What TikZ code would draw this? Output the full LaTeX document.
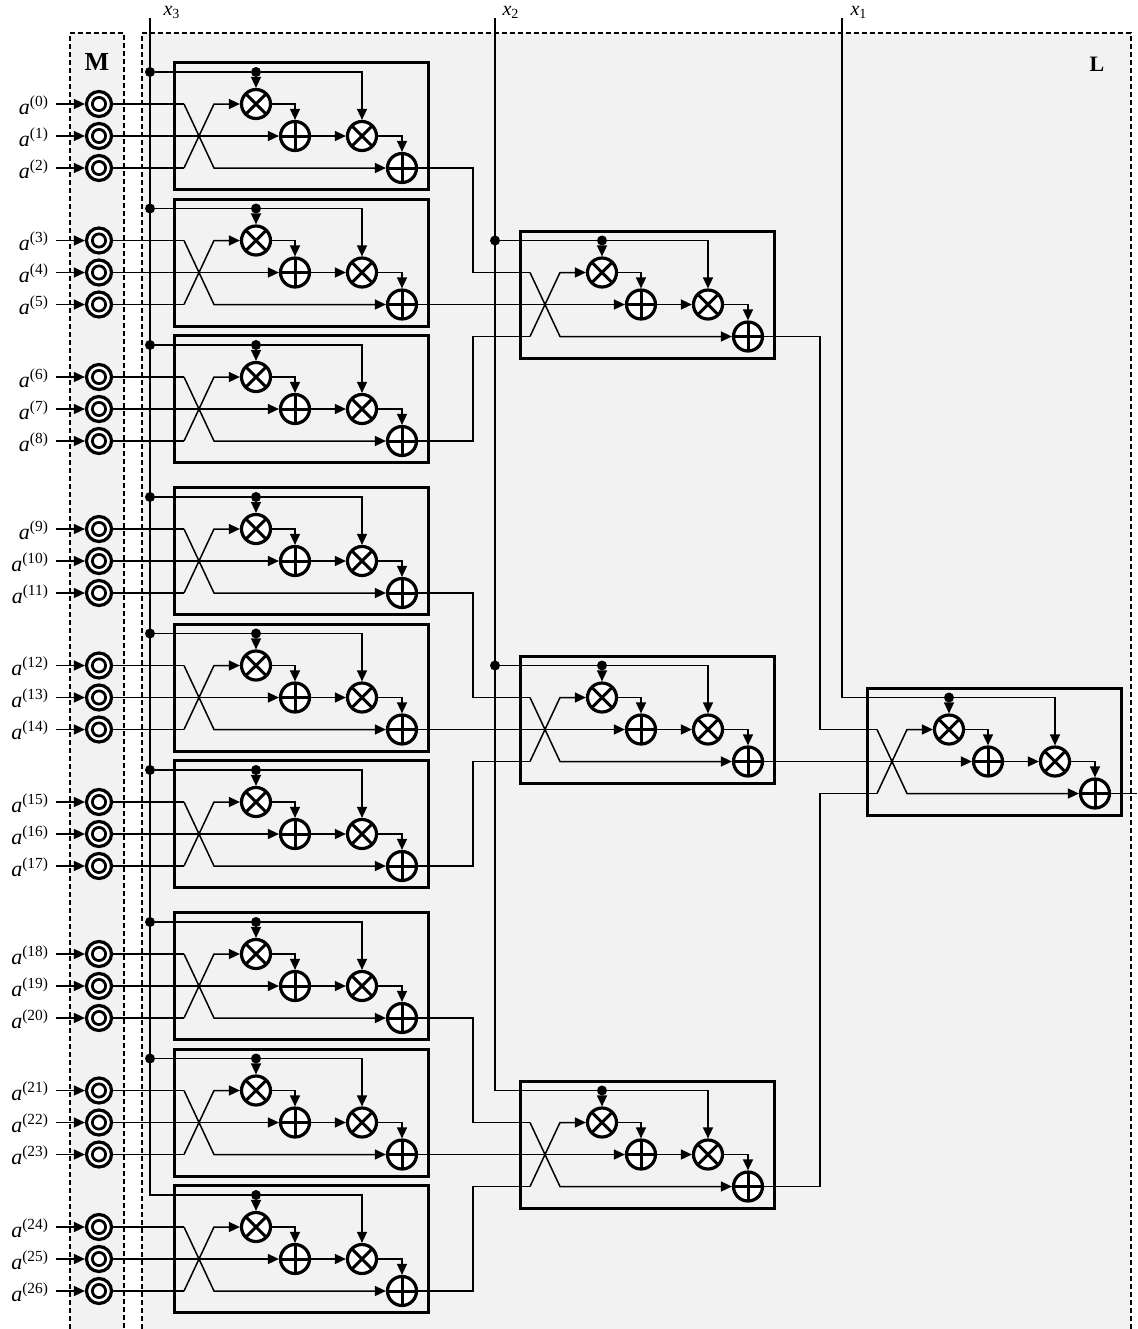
\documentclass[tikz,border=0pt]{standalone}
\usepackage{fontspec}
\setmainfont{Liberation Serif}
\usetikzlibrary{arrows.meta,calc}

\definecolor{panelgray}{HTML}{F2F2F2}

% one Horner unit: name, left edge, first row
\newcommand{\hornerunit}[3]{%
  \node[blockbox, anchor=north west] (#1) at (#2,#3-43) {};
  \node[mulnode] (#1m1) at (#2+83,#3) {};
  \node[addnode] (#1a1) at (#2+122,#3+32) {};
  \node[mulnode] (#1m2) at (#2+189,#3+32) {};
  \node[addnode] (#1a2) at (#2+229,#3+64) {};
  \node[jdot] (#1d) at (#2+83,#3-32) {};
  \coordinate (#1i0) at (#2+11,#3);
  \coordinate (#1i2) at (#2+11,#3+64);
  \coordinate (#1k0) at (#2+41,#3);
  \coordinate (#1k2) at (#2+41,#3+64);
  \coordinate (#1e0) at (#2-46,#3);
  \coordinate (#1e2) at (#2-46,#3+64);
  \draw[arr] (#1i0) -- (#1k2) -- (#1a2);
  \draw[arr] (#1i2) -- (#1k0) -- (#1m1);
  \draw[arr] (#1d) -- (#1m1);
  \draw[arr] (#1d) -| (#1m2);
  \draw[arr] (#1m1) -| (#1a1);
  \draw[arr] (#1a1) -- (#1m2);
  \draw[arr] (#1m2) -| (#1a2);
}

\begin{document}
\begin{tikzpicture}[
  x=0.5pt, y=-0.5pt,
  font=\fontsize{11}{13}\selectfont,
  opnode/.style={circle, draw, line width=1.6pt, fill=white, minimum size=14.5pt, inner sep=0pt},
  mulnode/.style={opnode, path picture={\draw[line width=1.5pt]
      (path picture bounding box.north west) -- (path picture bounding box.south east)
      (path picture bounding box.north east) -- (path picture bounding box.south west);}},
  addnode/.style={opnode, path picture={\draw[line width=1.5pt]
      (path picture bounding box.north) -- (path picture bounding box.south)
      (path picture bounding box.west) -- (path picture bounding box.east);}},
  regnode/.style={circle, draw, line width=1.6pt, fill=white, minimum size=12.5pt, inner sep=0pt,
      path picture={\draw[line width=1.4pt] (path picture bounding box.center) circle (3.3pt);}},
  blockbox/.style={draw, line width=1.5pt, minimum width=127pt, minimum height=63.5pt, inner sep=0pt},
  wire/.style={line width=0.75pt},
  arr/.style={wire, -{Triangle[length=5.5pt,width=5pt]}},
  jdot/.style={circle, fill, inner sep=0pt, minimum size=5pt},
  zone/.style={dashed, dash pattern=on 2.5pt off 1.5pt, line width=0.6pt}
]
\useasboundingbox (0,0) rectangle (1137,1329);

% memory and logic areas
\fill[panelgray] (70,33) rectangle (124,1329);
\fill[panelgray] (142,33) rectangle (1131,1329);
\draw[zone] (70,1329) |- (124,33) -- (124,1329);
\draw[zone] (142,1329) |- (1131,33) -- (1131,1329);
\node[font=\fontsize{13}{15}\selectfont\bfseries] (mlab) at (97,62) {M};
\node[font=\fontsize{11}{13}\selectfont\bfseries] (llab) at (1097,64) {L};

% variable lines
\coordinate (x3top) at (150,18);
\coordinate (x2top) at (495,18);
\coordinate (x1top) at (842,18);
\node[font=\fontsize{10}{12}\selectfont] (x3lab) at (172,12) {\textit{x}\textsubscript{3}};
\node[font=\fontsize{10}{12}\selectfont] (x2lab) at (511,12) {\textit{x}\textsubscript{2}};
\node[font=\fontsize{10}{12}\selectfont] (x1lab) at (859,12) {\textit{x}\textsubscript{1}};

% coefficient registers
\foreach \n in {0,...,26}{
  \pgfmathsetmacro\y{104+425*int(\n/9)+136.5*int(mod(\n,9)/3)+32*mod(\n,3)}
  \node[regnode] (r\n) at (99,\y) {};
  \node[anchor=east] (lab\n) at (56,\y+1) {\textit{a}\textsuperscript{(\n)}};
  \draw[arr] (lab\n.east |- r\n) -- (r\n);
}

% first level
\foreach \g in {0,1,2}{
  \foreach \j in {0,1,2}{
    \pgfmathsetmacro\R{104+425*\g+136.5*\j}
    \pgfmathtruncatemacro\n{9*\g+3*\j}
    \pgfmathtruncatemacro\nb{\n+1}
    \pgfmathtruncatemacro\nc{\n+2}
    \hornerunit{b\g\j}{173}{\R}
    \draw[wire] (r\n) -- (b\g\j i0);
    \draw[arr] (r\nb) -- (b\g\j a1);
    \draw[wire] (r\nc) -- (b\g\j i2);
  }
}
\foreach \k in {00,01,02,10,11,12,20,21}{
  \node[jdot] (x3j\k) at (x3top |- b\k d) {};
  \draw[wire] (x3j\k) -- (b\k d);
}
\draw[wire] (x3top) |- (b22d);

% second level
\foreach \g in {0,1,2}{
  \pgfmathsetmacro\R{272.5+425*\g}
  \hornerunit{c\g}{519}{\R}
  \draw[wire] (b\g0a2) -| (c\g e0) -- (c\g i0);
  \draw[arr] (b\g1a2) -- (c\g a1);
  \draw[wire] (b\g2a2) -| (c\g e2) -- (c\g i2);
}
\foreach \k in {0,1}{
  \node[jdot] (x2j\k) at (x2top |- c\k d) {};
  \draw[wire] (x2j\k) -- (c\k d);
}
\draw[wire] (x2top) |- (c2d);

% third level
\hornerunit{d}{866}{729.5}
\draw[wire] (c0a2) -| (de0) -- (di0);
\draw[arr] (c1a2) -- (da1);
\draw[wire] (c2a2) -| (de2) -- (di2);
\draw[wire] (x1top) |- (dd);
\coordinate (out) at (1137,793.5);
\draw[wire] (da2) -- (out);

\end{tikzpicture}
\end{document}
